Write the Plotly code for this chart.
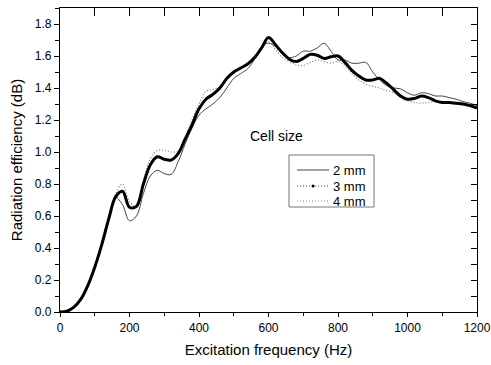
import plotly.graph_objects as go

freq = list(range(0, 1201, 20))

eff_2mm = [0.000, 0.005, 0.03, 0.08, 0.165, 0.28, 0.42, 0.57, 0.715, 0.67,
           0.57, 0.60, 0.74, 0.85, 0.885, 0.865, 0.86, 0.94, 1.05, 1.15,
           1.23, 1.27, 1.30, 1.34, 1.40, 1.46, 1.49, 1.52, 1.58, 1.66,
           1.68, 1.66, 1.61, 1.59, 1.60, 1.63, 1.63, 1.65, 1.68, 1.63,
           1.575, 1.575, 1.555, 1.555, 1.56, 1.50, 1.45, 1.415, 1.40, 1.395,
           1.37, 1.355, 1.37, 1.365, 1.35, 1.35, 1.34, 1.33, 1.315, 1.305,
           1.29]

eff_3mm = [0.000, 0.005, 0.03, 0.08, 0.165, 0.28, 0.42, 0.58, 0.72, 0.755,
           0.655, 0.66, 0.80, 0.92, 0.97, 0.955, 0.95, 0.99, 1.08, 1.17,
           1.27, 1.33, 1.36, 1.40, 1.46, 1.50, 1.525, 1.55, 1.59, 1.65,
           1.715, 1.67, 1.62, 1.58, 1.565, 1.585, 1.61, 1.605, 1.585, 1.595,
           1.60, 1.56, 1.51, 1.475, 1.45, 1.45, 1.46, 1.43, 1.39, 1.35,
           1.33, 1.335, 1.35, 1.34, 1.32, 1.31, 1.31, 1.305, 1.30, 1.29,
           1.275]

eff_4mm = [0.000, 0.005, 0.03, 0.08, 0.165, 0.28, 0.42, 0.58, 0.74, 0.80,
           0.69, 0.66, 0.82, 0.96, 1.01, 1.01, 1.00, 1.005, 1.09, 1.20,
           1.30, 1.38, 1.39, 1.41, 1.46, 1.49, 1.52, 1.55, 1.58, 1.64,
           1.69, 1.64, 1.59, 1.565, 1.545, 1.54, 1.56, 1.575, 1.565, 1.555,
           1.565, 1.54, 1.49, 1.45, 1.425, 1.41, 1.40, 1.385, 1.37, 1.34,
           1.32, 1.31, 1.305, 1.31, 1.315, 1.315, 1.305, 1.30, 1.295, 1.29,
           1.285]

names = ["2 mm", "3 mm", "4 mm"]
legend_title = "Cell size"

FONT = "Liberation Sans, Arial, sans-serif"

fig = go.Figure()

fig.add_trace(go.Scatter(x=freq, y=eff_4mm, mode="lines", name=names[2],
                         line=dict(color="#7a7a7a", width=1.2, dash="1px,2px"),
                         line_shape="spline", showlegend=False))
fig.add_trace(go.Scatter(x=freq, y=eff_2mm, mode="lines", name=names[0],
                         line=dict(color="#444444", width=1),
                         line_shape="spline", showlegend=False))
fig.add_trace(go.Scatter(x=freq, y=eff_3mm, mode="lines", name=names[1],
                         line=dict(color="#000000", width=3),
                         line_shape="spline", showlegend=False))

axis_common = dict(showgrid=False, zeroline=False, showline=True, linecolor="black",
                   linewidth=1.3, automargin=False)

# hand-drawn legend box (paper coordinates, plot area 60..477 x 8..312 px)
W, H, L, T = 417.0, 304.0, 60.0, 8.0
def px(x): return (x - L) / W
def py(y): return (T + H - y) / H

shapes = [dict(type="rect", xref="paper", yref="paper", x0=px(289), x1=px(374), y0=py(207), y1=py(155),
               line=dict(color="#777777", width=1), fillcolor="white", layer="above")]
annotations = [dict(text=legend_title, x=px(248), y=py(136), xref="paper", yref="paper",
                    xanchor="left", yanchor="middle", showarrow=False, font=dict(size=14))]
rows = [170, 186, 201]
styles = [dict(color="#444444", width=1),
          dict(color="#444444", width=1, dash="1px,2px"),
          dict(color="#888888", width=1, dash="1px,2px")]
for i, (r, st) in enumerate(zip(rows, styles)):
    shapes.append(dict(type="line", xref="paper", yref="paper", x0=px(297), x1=px(329),
                       y0=py(r), y1=py(r), line=st, layer="above"))
    annotations.append(dict(text=names[i], x=px(331), y=py(r), xref="paper", yref="paper",
                            xanchor="left", yanchor="middle", showarrow=False, font=dict(size=13)))
shapes.append(dict(type="circle", xref="paper", yref="paper", x0=px(311.5), x1=px(314.5),
                   y0=py(187.5), y1=py(184.5), fillcolor="black", line=dict(color="black", width=0),
                   layer="above"))

fig.update_layout(
    width=491, height=365,
    margin=dict(l=60, r=14, t=8, b=53),
    paper_bgcolor="white", plot_bgcolor="white",
    font=dict(family=FONT, color="black", size=12),
    showlegend=False,
    xaxis=dict(range=[0, 1200], tickvals=[0, 200, 400, 600, 800, 1000, 1200],
               ticks="outside", ticklen=4, tickwidth=1, tickcolor="black",
               minor=dict(dtick=100, ticks="outside", ticklen=3, tickcolor="black"),
               title=dict(text="Excitation frequency (Hz)", font=dict(size=15), standoff=10),
               tickfont=dict(size=12), **axis_common),
    yaxis=dict(range=[0, 1.9], tickvals=[0, 0.2, 0.4, 0.6, 0.8, 1.0, 1.2, 1.4, 1.6, 1.8],
               tickformat=".1f",
               ticks="outside", ticklen=5, tickwidth=1, tickcolor="black",
               minor=dict(dtick=0.1, ticks="outside", ticklen=4, tickcolor="black"),
               title=dict(text="Radiation efficiency (dB)", font=dict(size=15), standoff=8),
               tickfont=dict(size=12), **axis_common),
    xaxis2=dict(range=[0, 1200], overlaying="x", side="top", anchor="y", dtick=100, tick0=0,
                ticks="inside", ticklen=8, tickcolor="black", showticklabels=False, **axis_common),
    yaxis2=dict(range=[0, 1.9], overlaying="y", side="right", anchor="x", dtick=0.1, tick0=0,
                ticks="inside", ticklen=6, tickcolor="black", showticklabels=False, **axis_common),
    shapes=shapes,
    annotations=annotations,
)

fig.add_trace(go.Scatter(x=[None], y=[None], xaxis="x2", yaxis="y2", showlegend=False, hoverinfo="skip"))

fig.write_html("out.html")
